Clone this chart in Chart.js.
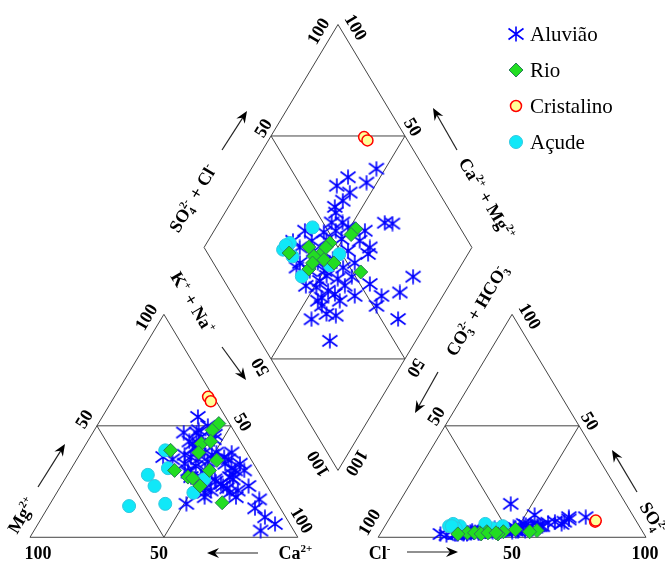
<!DOCTYPE html>
<html>
<head>
<meta charset="utf-8">
<script src="https://cdn.jsdelivr.net/npm/chart.js@4.4.1/dist/chart.umd.min.js"></script>
<style>
html, body { margin: 0; padding: 0; background: #fff; }
#wrap { width: 665px; height: 566px; }
</style>
</head>
<body>
<div id="wrap"><canvas id="piper" width="665" height="566"></canvas></div>
<script>
// Piper diagram. Percentages of meq/L; Ca2+ = 100 - Mg - NaK, HCO3 = 100 - SO4 - Cl
// columns: Mg2+, Na+ + K+, SO4 2-, Cl-
var aluviaoMg  = [44, 43, 54, 46, 42, 45, 42, 50, 33, 30, 36, 38, 47, 33, 35, 34, 38, 36, 35, 30,
                  37, 28, 26, 36, 48, 33, 24, 28, 15, 26, 20, 24, 21, 17, 23, 3, 9, 13, 18, 23,
                  20, 6, 18, 32, 30, 29, 25, 27, 40, 31, 27, 21, 22, 30, 37, 47, 38, 27, 35, 22];
var aluviaoNaK = [46.7, 38, 35.7, 46.1, 42.1, 41.3, 39.7, 41.4, 61.9, 65, 42, 46.1, 33.9, 41.3, 45.4, 49.3, 56.3, 31.7, 35.7, 44,
                  49.4, 61.9, 62.7, 54.5, 39, 56.4, 50.7, 52.1, 50.9, 56, 55.1, 59.3, 67.1, 77.1, 70.1, 84.6, 83.2, 77.5, 56.2, 60.6,
                  64.5, 88.5, 67.9, 45.9, 50.4, 44.7, 56.9, 61.1, 41.7, 59.7, 46.6, 57, 62.6, 61.7, 39.2, 38.7, 50.6, 50.3, 56.6, 54.4];
var aluviaoSO4 = [9, 7, 10, 8, 6.5, 5, 5.5, 15, 7, 9, 4, 6, 3, 4, 3, 4.5, 5, 2, 2.5, 3.5,
                  4, 5, 4, 3.5, 1.5, 3, 2, 2.5, 2, 3, 1.5, 2, 3, 4, 3, 6, 5, 2.5, 1.5, 2,
                  1.5, 3, 1, 2.5, 3, 2, 3, 2.5, 3, 4.5, 1.5, 2, 2, 3.5, 2, 3, 4, 2.5, 5, 1.5];
var aluviaoCl  = [73, 62.5, 53.4, 67.2, 60.2, 57.3, 52.4, 42, 66, 66.7, 49.2, 51.3, 38.4, 44.1, 49.9, 53.8, 58.8, 32.7, 33.2, 43.9,
                  49.2, 56.9, 55.8, 49.5, 28.5, 44.4, 33.7, 36.9, 31, 33.6, 31.1, 36.4, 42.4, 51.4, 50.7, 65.5, 58, 48.8, 22.5, 28.8,
                  32.4, 53.4, 25, 36.5, 40.5, 32.2, 39.9, 41.5, 37.2, 48.3, 27.9, 28.9, 36.7, 45.1, 30.3, 38.7, 41.5, 37.3, 54.6, 29];

var rioMg  = [51, 48, 42, 43, 39, 38, 34.5, 30, 30, 27, 26.5, 23, 15.5];
var rioNaK = [45, 44, 43, 46, 33, 44, 52.5, 39, 52, 45.5, 47.5, 52, 64];
var rioSO4 = [2.5, 2, 2, 2.5, 1.5, 2, 3, 1.5, 2.5, 1.5, 2, 2, 3.5];
var rioCl  = [39.3, 32.3, 37, 45.5, 29, 35, 57.8, 37.7, 55.3, 44, 40, 43, 49.5];

var cristalinoMg  = [63, 61];
var cristalinoNaK = [35, 37];
var cristalinoSO4 = [7, 7.5];
var cristalinoCl  = [77.5, 77.5];

var acudeMg  = [39, 31, 28, 23, 14, 15, 20, 26];
var acudeNaK = [31, 36, 30, 35, 30, 43, 51, 52];
var acudeSO4 = [5, 4, 5, 6, 4, 5, 6, 5];
var acudeCl  = [28, 41, 24, 25, 27, 25, 37, 44];

var seriesNames = ['Aluvião', 'Rio', 'Cristalino', 'Açude'];

// geometry: triangle side 100, gap 30 between the triangles
var GAP = 30;
var H = Math.sqrt(3) / 2;
var DB = { x: 100 + GAP / 2, y: GAP / 2 * Math.sqrt(3) };   // diamond bottom
var DL = { x: DB.x - 50, y: DB.y + 100 * H };               // diamond left
var DT = { x: DB.x, y: DB.y + 200 * H };                    // diamond top
var DR = { x: DB.x + 50, y: DB.y + 100 * H };

function cationXY(mg, nak) { return { x: nak + mg / 2, y: mg * H }; }
function anionXY(so4, cl) { return { x: 100 + GAP + cl + so4 / 2, y: so4 * H }; }
function diamondXY(nak, so4, cl) {
    var a = (so4 + cl) / 100, b = nak / 100;
    return { x: DL.x + a * (DT.x - DL.x) + b * (DB.x - DL.x),
             y: DL.y + a * (DT.y - DL.y) + b * (DB.y - DL.y) };
}

function piperPoints(mg, nak, so4, cl) {
    var pts = [];
    for (var i = 0; i < mg.length; i++) {
        pts.push(cationXY(mg[i], nak[i]));
        pts.push(anionXY(so4[i], cl[i]));
        pts.push(diamondXY(nak[i], so4[i], cl[i]));
    }
    return pts;
}

// asterisk marker
function makeStar() {
    var c = document.createElement('canvas');
    c.width = 18; c.height = 16;
    var g = c.getContext('2d');
    g.strokeStyle = '#0000ff';
    g.lineWidth = 1.6;
    g.beginPath();
    g.moveTo(9, 0.5); g.lineTo(9, 15.5);
    g.moveTo(1.5, 2.5); g.lineTo(16.5, 13.5);
    g.moveTo(1.5, 13.5); g.lineTo(16.5, 2.5);
    g.stroke();
    return c;
}
var star = makeStar();

function frame(points) {
    return {
        data: points.map(function (p) { return { x: p[0], y: p[1] }; }),
        showLine: true, borderColor: '#444', borderWidth: 1,
        pointRadius: 0, fill: false, order: 10
    };
}

var h50 = 50 * H, h100 = 100 * H;
var R0 = 100 + GAP;
var frames = [
    frame([[0, 0], [100, 0], [50, h100], [0, 0]]),
    frame([[25, h50], [75, h50], [50, 0], [25, h50]]),
    frame([[R0, 0], [R0 + 100, 0], [R0 + 50, h100], [R0, 0]]),
    frame([[R0 + 25, h50], [R0 + 75, h50], [R0 + 50, 0], [R0 + 25, h50]]),
    frame([[DB.x, DB.y], [DR.x, DR.y], [DT.x, DT.y], [DL.x, DL.y], [DB.x, DB.y]]),
    frame([[DB.x - 25, DT.y - h50], [DB.x + 25, DT.y - h50]]),
    frame([[DB.x - 25, DB.y + h50], [DB.x + 25, DB.y + h50]]),
    frame([[DB.x - 25, DT.y - h50], [DB.x + 25, DB.y + h50]]),
    frame([[DB.x + 25, DT.y - h50], [DB.x - 25, DB.y + h50]])
];

var datasets = frames.concat([
    { label: seriesNames[0], data: piperPoints(aluviaoMg, aluviaoNaK, aluviaoSO4, aluviaoCl),
      pointStyle: star, order: 4 },
    { label: seriesNames[3], data: piperPoints(acudeMg, acudeNaK, acudeSO4, acudeCl),
      pointStyle: 'circle', pointRadius: 6.5, backgroundColor: '#10e8f8', borderColor: '#30c8e0', borderWidth: 1, order: 3 },
    { label: seriesNames[2], data: piperPoints(cristalinoMg, cristalinoNaK, cristalinoSO4, cristalinoCl),
      pointStyle: 'circle', pointRadius: 5.5, backgroundColor: '#ffff99', borderColor: '#ff0000', borderWidth: 1.5, order: 2 },
    { label: seriesNames[1], data: piperPoints(rioMg, rioNaK, rioSO4, rioCl),
      pointStyle: 'rectRot', pointRadius: 7, backgroundColor: '#22dd22', borderColor: '#2a7a5a', borderWidth: 1, order: 1 }
]);

// rich text with super/subscripts
function drawRich(ctx, parts, x, y, deg, size, bold) {
    var small = Math.round(size * 0.62);
    function font(s) { return (bold ? 'bold ' : '') + s + 'px "Liberation Serif", "Times New Roman", serif'; }
    var widths = parts.map(function (p) {
        if (p.t !== undefined) { ctx.font = font(size); return ctx.measureText(p.t).width; }
        ctx.font = font(small);
        return Math.max(p.sub ? ctx.measureText(p.sub).width : 0, p.sup ? ctx.measureText(p.sup).width : 0) + 1;
    });
    var total = widths.reduce(function (a, b) { return a + b; }, 0);
    ctx.save();
    ctx.translate(x, y);
    ctx.rotate(deg * Math.PI / 180);
    ctx.fillStyle = '#000';
    ctx.textBaseline = 'alphabetic';
    ctx.textAlign = 'left';
    var cx = -total / 2, base = size * 0.33;
    parts.forEach(function (p, i) {
        if (p.t !== undefined) {
            ctx.font = font(size);
            ctx.fillText(p.t, cx, base);
        } else {
            ctx.font = font(small);
            if (p.sup) ctx.fillText(p.sup, cx, base - size * 0.4);
            if (p.sub) ctx.fillText(p.sub, cx, base + size * 0.22);
        }
        cx += widths[i];
    });
    ctx.restore();
}

function arrow(ctx, x0, y0, x1, y1) {
    var ang = Math.atan2(y1 - y0, x1 - x0);
    ctx.save();
    ctx.strokeStyle = '#222';
    ctx.fillStyle = '#000';
    ctx.lineWidth = 1.2;
    ctx.beginPath();
    ctx.moveTo(x0, y0);
    ctx.lineTo(x1 - 6 * Math.cos(ang), y1 - 6 * Math.sin(ang));
    ctx.stroke();
    ctx.translate(x1, y1);
    ctx.rotate(ang);
    ctx.beginPath();
    ctx.moveTo(0, 0);
    ctx.lineTo(-12, -5);
    ctx.lineTo(-8, 0);
    ctx.lineTo(-12, 5);
    ctx.closePath();
    ctx.fill();
    ctx.restore();
}

var numLabels = [
    // left triangle
    ['100', 38, 553, 0], ['50', 159, 553, 0],
    ['50', 84, 419, -59], ['100', 146, 317, -59],
    ['50', 243, 422, 59], ['100', 302, 520, 59],
    // right triangle
    ['50', 512, 553, 0], ['100', 645, 553, 0],
    ['100', 369, 522, -59], ['50', 436, 416, -59],
    ['100', 530, 316, 59], ['50', 590, 421, 59],
    // diamond
    ['100', 318, 31, -59], ['50', 263, 128, -59],
    ['100', 356, 27, 59], ['50', 413, 127, 59],
    ['50', 260, 367, -121], ['100', 318, 464, -121],
    ['50', 416, 368, 121], ['100', 357, 463, 121]
];

var sup = function (s) { return { sup: s }; };
var sub2 = function (b, s) { return { sub: b, sup: s }; };
var nameLabels = [
    [[{ t: 'Ca' }, sup('2+')], 296, 553, 0],
    [[{ t: 'Mg' }, sup('2+')], 22, 515, -59],
    [[{ t: 'K' }, sup('+'), { t: ' + Na' }, sup('+')], 193, 303, 59],
    [[{ t: 'Cl' }, sup('-')], 380, 553, 0],
    [[{ t: 'SO' }, sub2('4', '2-')], 653, 518, 59],
    [[{ t: 'SO' }, sub2('4', '2-'), { t: ' + Cl' }, sup('-')], 193, 198, -59],
    [[{ t: 'Ca' }, sup('2+'), { t: ' + Mg' }, sup('2+')], 487, 199, 59],
    [[{ t: 'CO' }, sub2('3', '2-'), { t: ' + HCO' }, sub2('3', '-')], 477, 310, -59]
];

var arrows = [
    [258, 553, 207, 553], [38, 487, 65, 444], [222, 347, 246, 380],
    [407, 552, 458, 552], [637, 492, 612, 450],
    [222, 150, 247, 111], [457, 150, 433, 108], [438, 372, 415, 413]
];

var piperText = {
    id: 'piperText',
    afterDraw: function (chart) {
        var ctx = chart.ctx;
        numLabels.forEach(function (l) {
            drawRich(ctx, [{ t: l[0] }], l[1], l[2], l[3], 18, true);
        });
        nameLabels.forEach(function (l) {
            drawRich(ctx, l[0], l[1], l[2], l[3], 18, true);
        });
        arrows.forEach(function (a) { arrow(ctx, a[0], a[1], a[2], a[3]); });

        // legend
        var lx = 516, rows = [34, 70, 106, 142];
        ctx.save();
        ctx.drawImage(star, lx - 9, rows[0] - 8);
        ctx.beginPath();
        ctx.moveTo(lx, rows[1] - 7); ctx.lineTo(lx + 7, rows[1]); ctx.lineTo(lx, rows[1] + 7); ctx.lineTo(lx - 7, rows[1]);
        ctx.closePath();
        ctx.fillStyle = '#22dd22'; ctx.fill();
        ctx.strokeStyle = '#2a7a5a'; ctx.lineWidth = 1; ctx.stroke();
        ctx.beginPath(); ctx.arc(lx, rows[2], 5.5, 0, Math.PI * 2);
        ctx.fillStyle = '#ffff99'; ctx.fill();
        ctx.strokeStyle = '#ff0000'; ctx.lineWidth = 1.5; ctx.stroke();
        ctx.beginPath(); ctx.arc(lx, rows[3], 6.5, 0, Math.PI * 2);
        ctx.fillStyle = '#10e8f8'; ctx.fill();
        ctx.strokeStyle = '#30c8e0'; ctx.lineWidth = 1; ctx.stroke();
        ctx.fillStyle = '#000';
        ctx.font = '21px "Liberation Serif", "Times New Roman", serif';
        ctx.textBaseline = 'middle';
        seriesNames.forEach(function (n, i) { ctx.fillText(n, 530, rows[i] + 1); });
        ctx.restore();
    }
};

new Chart(document.getElementById('piper'), {
    type: 'scatter',
    data: { datasets: datasets },
    options: {
        responsive: false,
        animation: false,
        events: [],
        layout: { padding: 0, autoPadding: false },
        plugins: { legend: { display: false }, tooltip: { enabled: false } },
        scales: {
            x: { type: 'linear', display: false, min: -11.2, max: 237.1 },
            y: { type: 'linear', display: false, min: -11.15, max: 208.7 }
        }
    },
    plugins: [piperText]
});
</script>
</body>
</html>
